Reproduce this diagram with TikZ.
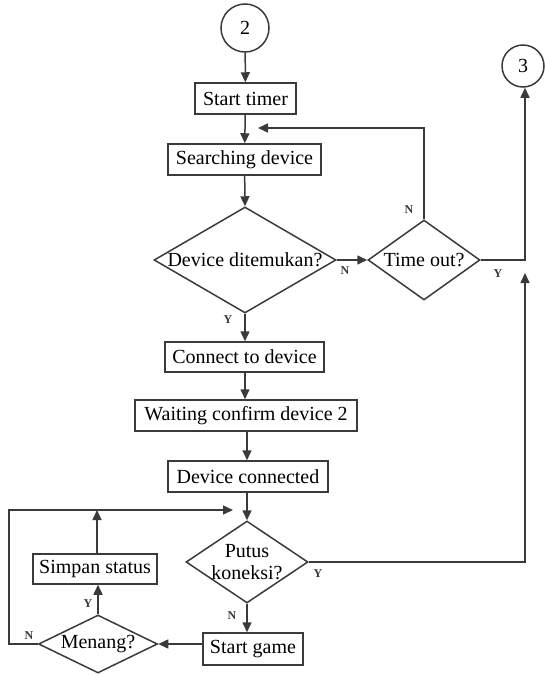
\documentclass[tikz,border=0pt]{standalone}
\usepackage{fontspec}
\setmainfont{Liberation Serif}
\usetikzlibrary{shapes.geometric,arrows.meta}
\definecolor{ln}{HTML}{3A3A3A}
\tikzset{
  base/.style={draw=ln, line width=1.5pt, inner sep=0pt, font=\fontsize{20}{22}\selectfont, text=black},
  box/.style={base, rectangle},
  dia/.style={base, diamond},
  conn/.style={base, circle},
  flow/.style={draw=ln, line width=1.5pt, -{Triangle[length=10pt,width=9pt]}},
  yn/.style={font=\fontsize{12}{12}\selectfont\bfseries, text=ln, inner sep=0pt},
  every label/.style={font=\fontsize{20}{22}\selectfont, text=black, inner sep=0pt, align=center}
}
\begin{document}
\begin{tikzpicture}[x=1pt,y=-1pt]
\useasboundingbox (0,0) rectangle (544,675);
% nodes
\node[conn, minimum size=48pt] (c2) at (245,28) {2};
\node[conn, minimum size=42pt] (c3) at (523,66) {3};
\node[box, minimum width=101pt, minimum height=31pt] (st) at (245.5,98.5) {Start timer};
\node[box, minimum width=153pt, minimum height=31pt] (sd) at (244.5,159.5) {Searching device};
\node[dia, minimum width=182pt, minimum height=106pt, label={center:Device ditemukan?}] (dd) at (245,260) {};
\node[dia, minimum width=112pt, minimum height=80pt, label={center:Time out?}] (to) at (424,260) {};
\node[box, minimum width=159pt, minimum height=30pt] (ctd) at (244.5,357) {Connect to device};
\node[box, minimum width=222pt, minimum height=31pt] (wcd) at (246,415.5) {Waiting confirm device 2};
\node[box, minimum width=160pt, minimum height=31pt] (dc) at (248,476.5) {Device connected};
\node[dia, minimum width=122pt, minimum height=82pt, label={center:{Putus\\koneksi?}}] (pk) at (247,562) {};
\node[box, minimum width=100pt, minimum height=32pt] (sg) at (253,649) {Start game};
\node[dia, minimum width=119pt, minimum height=58pt, label={center:Menang?}] (mn) at (98,644) {};
\node[box, minimum width=124pt, minimum height=30pt] (ss) at (95,569) {Simpan status};
% helper coordinates
\coordinate (fb1) at (258,128);
\coordinate (rx) at (525,0);
\coordinate (pkY) at (525,273);
\coordinate (lx) at (9,0);
\coordinate (fb2) at (233,510);
\coordinate (ssx) at (97,0);
% connectors
\draw[flow] (c2) -- (st);
\draw[flow] (st) -- (sd);
\draw[flow] (sd) -- (dd.north);
\draw[flow] (dd.east) -- (to.west);
\draw[flow] (to.north) -- (to.north |- fb1) -- (fb1);
\draw[flow] (to.east) -- (to.east -| rx) -- (c3.south -| rx);
\draw[flow] (dd.south) -- (ctd.north -| dd.south);
\draw[flow] (ctd.south -| dd.south) -- (wcd.north -| dd.south);
\draw[flow] (pk.north |- wcd.south) -- (pk.north |- dc.north);
\draw[flow] (pk.north |- dc.south) -- (pk.north);
\draw[flow] (pk.east) -- (pk.east -| pkY) -- (pkY);
\draw[flow] (pk.south) -- (pk.south |- sg.north);
\draw[flow] (sg.west |- mn.east) -- (mn.east);
\draw[flow] (mn.north) -- (mn.north |- ss.south);
\draw[flow] (mn.west) -- (mn.west -| lx) -- (lx |- fb2) -- (fb2);
\draw[flow] (ss.north -| ssx) -- (ssx |- fb2);
% labels
\node[yn] (lN1) at (345,271) {N};
\node[yn] (lN2) at (409,210) {N};
\node[yn] (lY1) at (498,274) {Y};
\node[yn] (lY2) at (228,320) {Y};
\node[yn] (lY3) at (318,574) {Y};
\node[yn] (lN3) at (232,616) {N};
\node[yn] (lY4) at (88,604) {Y};
\node[yn] (lN4) at (29,636) {N};
\end{tikzpicture}
\end{document}
